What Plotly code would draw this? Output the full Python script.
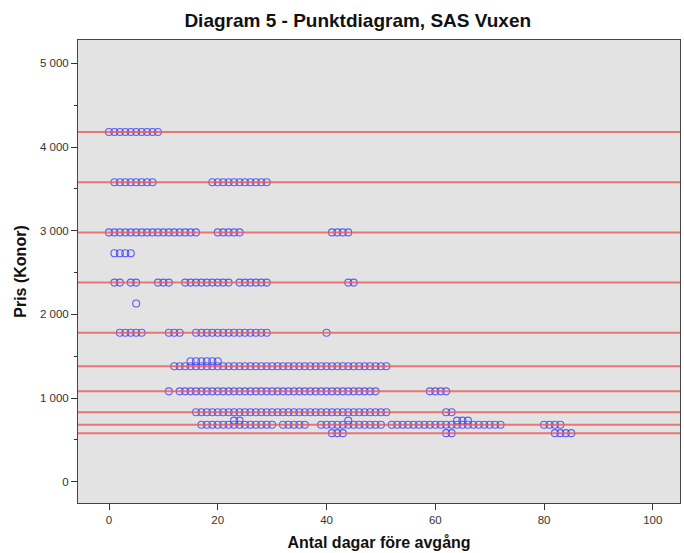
import plotly.graph_objects as go

# Reference price lines (kronor)
ref_lines = [4180, 3580, 2980, 2380, 1780, 1380, 1080, 830, 680, 580]

# Observed points: price level -> days before departure
days_4180 = [0, 1, 2, 3, 4, 5, 6, 7, 8, 9]
days_3580 = [1, 2, 3, 4, 5, 6, 7, 8, 19, 20, 21, 22, 23, 24, 25, 26, 27, 28, 29]
days_2980 = [0, 1, 2, 3, 4, 5, 6, 7, 8, 9, 10, 11, 12, 13, 14, 15, 16, 20, 21, 22, 23, 24, 41, 42, 43, 44]
days_2730 = [1, 2, 3, 4]
days_2380 = [1, 2, 4, 5, 9, 10, 11, 14, 15, 16, 17, 18, 19, 20, 21, 22, 24, 25, 26, 27, 28, 29, 44, 45]
days_2130 = [5]
days_1780 = [2, 3, 4, 5, 6, 11, 12, 13, 16, 17, 18, 19, 20, 21, 22, 23, 24, 25, 26, 27, 28, 29, 40]
days_1440 = [15, 16, 17, 18, 19, 20]
days_1380 = [12, 13, 14, 15, 16, 17, 18, 19, 20, 21, 22, 23, 24, 25, 26, 27, 28, 29, 30, 31,
             32, 33, 34, 35, 36, 37, 38, 39, 40, 41, 42, 43, 44, 45, 46, 47, 48, 49, 50, 51]
days_1080 = [11, 13, 14, 15, 16, 17, 18, 19, 20, 21, 22, 23, 24, 25, 26, 27, 28, 29, 30, 31,
             32, 33, 34, 35, 36, 37, 38, 39, 40, 41, 42, 43, 44, 45, 46, 47, 48, 49, 59, 60, 61, 62]
days_830 = [16, 17, 18, 19, 20, 21, 22, 23, 24, 25, 26, 27, 28, 29, 30, 31, 32, 33, 34, 35,
            36, 37, 38, 39, 40, 41, 42, 43, 44, 45, 46, 47, 48, 49, 50, 51, 62, 63]
days_730 = [23, 24, 44, 64, 65, 66]
days_680 = [17, 18, 19, 20, 21, 22, 23, 24, 25, 26, 27, 28, 29, 30, 32, 33, 34, 35, 36,
            39, 40, 41, 42, 43, 44, 45, 46, 47, 48, 49, 50, 52, 53, 54, 55, 56, 57, 58, 59,
            60, 61, 62, 63, 64, 65, 66, 67, 68, 69, 70, 71, 72, 80, 81, 82, 83]
days_580 = [41, 42, 43, 62, 63, 82, 83, 84, 85]

price_levels = [4180, 3580, 2980, 2730, 2380, 2130, 1780, 1440, 1380, 1080, 830, 730, 680, 580]
days_lists = [days_4180, days_3580, days_2980, days_2730, days_2380, days_2130, days_1780,
              days_1440, days_1380, days_1080, days_830, days_730, days_680, days_580]

x_vals, y_vals = [], []
for price, days in zip(price_levels, days_lists):
    for d in days:
        x_vals.append(d)
        y_vals.append(price)

y_ticks = [0, 1000, 2000, 3000, 4000, 5000]
y_tick_text = ["0", "1 000", "2 000", "3 000", "4 000", "5 000"]
y_minor_ticks = [500, 1500, 2500, 3500, 4500]
x_ticks = [0, 20, 40, 60, 80, 100]

fig = go.Figure()
fig.add_trace(go.Scatter(
    x=x_vals, y=y_vals, mode="markers",
    marker=dict(symbol="circle-open", size=7, color="rgba(70,70,245,0.85)",
                line=dict(width=1.1)),
    showlegend=False, hoverinfo="x+y",
))

for v in ref_lines:
    fig.add_shape(type="line", xref="paper", x0=0, x1=1, yref="y", y0=v, y1=v,
                  line=dict(color="rgba(232,90,90,0.8)", width=2), layer="above")

font_family = "Liberation Sans, Arial, sans-serif"
fig.update_layout(
    width=684, height=553,
    margin=dict(l=78, r=4, t=40, b=50),
    paper_bgcolor="white", plot_bgcolor="#e3e3e3",
    font=dict(family=font_family, size=11.5, color="#333333"),
    title=dict(text="<b>Diagram 5 - Punktdiagram, SAS Vuxen</b>",
               x=0.523, xanchor="center", y=0.964, yanchor="middle",
               font=dict(size=19, color="#111111")),
    xaxis=dict(range=[-5.7, 105], tickvals=x_ticks, ticks="outside", ticklen=6,
               tickcolor="#333333", showgrid=False, zeroline=False,
               showline=True, linecolor="#444444", linewidth=1, mirror=True,
               title=dict(text="<b>Antal dagar före avgång</b>", standoff=12,
                          font=dict(size=16, color="#111111")),
               automargin=False),
    yaxis=dict(range=[-255, 5280], tickvals=y_ticks, ticktext=y_tick_text,
               ticks="outside", ticklen=6, tickcolor="#333333",
               minor=dict(tickvals=y_minor_ticks, ticks="outside",
                          ticklen=3, tickcolor="#333333", showgrid=False),
               showgrid=False, zeroline=False,
               showline=True, linecolor="#444444", linewidth=1, mirror=True,
               title=dict(text="<b>Pris (Konor)</b>", standoff=9,
                          font=dict(size=16, color="#111111")),
               automargin=False),
)

fig.write_html("out.html")
